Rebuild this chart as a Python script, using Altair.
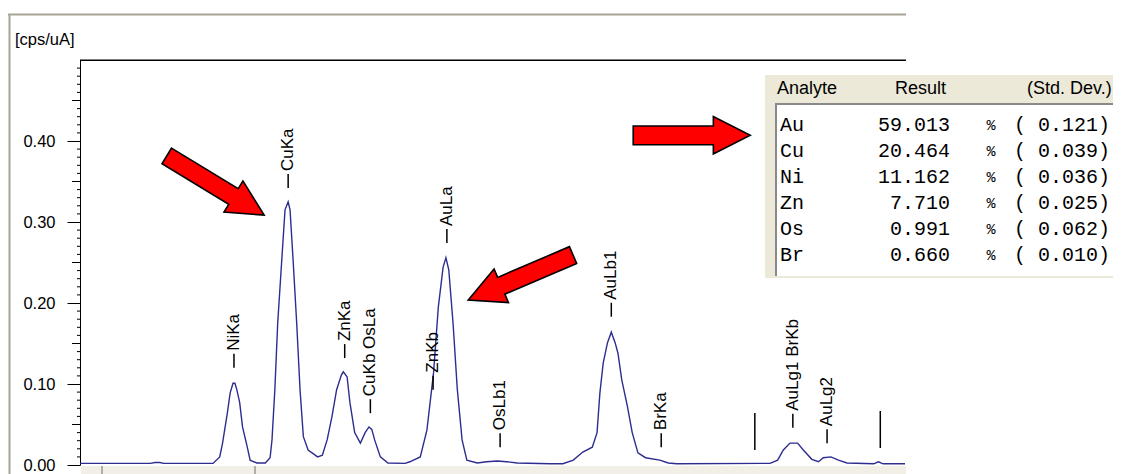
import altair as alt
import pandas as pd

# ---------------- data ----------------
energy = [5.85, 6.59, 6.64, 6.69, 6.73, 7.25, 7.32, 7.35, 7.40, 7.43, 7.46, 7.48, 7.50, 7.53,
          7.56, 7.61, 7.64, 7.71, 7.80, 7.85, 7.87, 7.90, 7.93, 7.975, 8.007, 8.04, 8.06, 8.09,
          8.13, 8.165, 8.20, 8.25, 8.35, 8.40, 8.45, 8.50, 8.55, 8.60, 8.62, 8.66, 8.69, 8.74,
          8.80, 8.85, 8.89, 8.92, 8.95, 9.01, 9.09, 9.27, 9.32, 9.43, 9.50, 9.57, 9.62, 9.67,
          9.70, 9.73, 9.775, 9.82, 9.87, 9.92, 10.03, 10.13, 10.24, 10.34, 10.45, 10.80, 10.93,
          11.04, 11.14, 11.24, 11.29, 11.32, 11.355, 11.40, 11.44, 11.48, 11.51, 11.55, 11.61,
          11.66, 11.72, 11.80, 11.95, 12.04, 12.13, 13.11, 13.19, 13.25, 13.32, 13.40, 13.46,
          13.55, 13.62, 13.67, 13.75, 13.83, 13.92, 14.20, 14.25, 14.30, 14.53]
intensity = [0.002, 0.002, 0.003, 0.003, 0.002, 0.002, 0.010, 0.027, 0.064, 0.089, 0.101, 0.101,
             0.093, 0.077, 0.047, 0.022, 0.006, 0.0025, 0.0025, 0.009, 0.031, 0.093, 0.175, 0.257,
             0.315, 0.325, 0.315, 0.257, 0.175, 0.093, 0.035, 0.0185, 0.010, 0.012, 0.031, 0.059,
             0.093, 0.111, 0.115, 0.109, 0.077, 0.040, 0.027, 0.040, 0.047, 0.044, 0.031, 0.010,
             0.0025, 0.002, 0.004, 0.010, 0.043, 0.114, 0.195, 0.244, 0.256, 0.241, 0.175, 0.093,
             0.031, 0.006, 0.0025, 0.004, 0.005, 0.004, 0.0025, 0.0015, 0.0015, 0.006, 0.016,
             0.022, 0.040, 0.089, 0.126, 0.151, 0.164, 0.151, 0.138, 0.105, 0.072, 0.040, 0.015,
             0.009, 0.006, 0.0025, 0.0015, 0.002, 0.006, 0.0185, 0.027, 0.027, 0.0185, 0.007,
             0.004, 0.009, 0.010, 0.006, 0.0025, 0.0015, 0.004, 0.0015, 0.0015]

peak_names = ["NiKa", "CuKa", "ZnKa", "CuKb OsLa", "ZnKb", "AuLa", "OsLb1", "AuLb1", "BrKa",
              "", "AuLg1 BrKb", "AuLg2", ""]
peak_energy = [7.47, 8.04, 8.635, 8.905, 9.565, 9.71, 10.27, 11.44, 11.965, 12.95, 13.35,
               13.71, 14.27]
peak_label_base = [0.120, 0.342, 0.132, 0.064, 0.093, 0.274, 0.022, 0.183, 0.022, 0.0185,
                   0.046, 0.027, 0.021]

analytes = ["Au", "Cu", "Ni", "Zn", "Os", "Br"]
results = ["59.013", "20.464", "11.162", "7.710", "0.991", "0.660"]
std_devs = ["0.121", "0.039", "0.036", "0.025", "0.062", "0.010"]
table_headers = ["Analyte", "Result", "(Std. Dev.)"]

y_tick_values = [0.0, 0.1, 0.2, 0.3, 0.4]
y_mid_ticks = [0.05, 0.15, 0.25, 0.35, 0.45]
y_minor_ticks = [round(i * 0.01, 2) for i in range(51) if i % 5 != 0]

# arrow annotations (centre in data units, direction in degrees clockwise, length in px)
arrow_x = [7.275, 10.486, 12.286]
arrow_y = [0.345, 0.2315, 0.407]
arrow_angle = [31.3, 156.8, 0.0]
arrow_len = [114, 114, 117]

# ---------------- layout ----------------
W, H = 825, 405
FONT = "Liberation Sans"
MONO = "Liberation Mono"
XD = [5.85, 14.53]
YD = [0.0, 0.5]

xs = alt.Scale(domain=XD, nice=False, zero=False)
ys = alt.Scale(domain=YD, nice=False, zero=False)
yaxis = alt.Axis(values=y_tick_values, format=".2f", tickSize=13, labelPadding=12,
                 labelFont=FONT, labelFontSize=16.5, labelColor="black",
                 domainColor="black", tickColor="black", grid=False, title=None,
                 labelFlush=False, labelOverlap=False)


def X(field):
    return alt.X(field, scale=xs, axis=None)


def Y(field):
    return alt.Y(field, scale=ys, axis=yaxis)


one = pd.DataFrame({"a": [0]})

spec = pd.DataFrame({"energy": energy, "intensity": intensity})
curve = alt.Chart(spec).mark_line(color="#2d2d8f", strokeWidth=1.4).encode(
    x=X("energy:Q"), y=Y("intensity:Q"))

mid = alt.Chart(pd.DataFrame({"intensity": y_mid_ticks})).mark_rule(color="black").encode(
    y=Y("intensity:Q"), x=alt.value(-8), x2=alt.value(0))
minor = alt.Chart(pd.DataFrame({"intensity": y_minor_ticks})).mark_rule(color="black").encode(
    y=Y("intensity:Q"), x=alt.value(-3), x2=alt.value(0))

labels_df = pd.DataFrame({"energy": peak_energy, "intensity": peak_label_base,
                          "txt": peak_names})
named = labels_df[labels_df["txt"] != ""]
unnamed = labels_df[labels_df["txt"] == ""]

peak_text = alt.Chart(named).mark_text(
    angle=270, align="left", baseline="middle", font=FONT, fontSize=17, color="black",
    yOffset=-17
).encode(x=X("energy:Q"), y=Y("intensity:Q"), text="txt:N")
peak_dash = alt.Chart(named).mark_tick(
    orient="vertical", size=14, thickness=1.5, color="black", yOffset=-7, opacity=1
).encode(x=X("energy:Q"), y=Y("intensity:Q"))
marker_dash = alt.Chart(unnamed).mark_tick(
    orient="vertical", size=37, thickness=1.5, color="black", yOffset=-18.5, opacity=1
).encode(x=X("energy:Q"), y=Y("intensity:Q"))

arrow_path = ("M -1 -0.16 L 0.37 -0.16 L 0.37 -0.32 L 1 0 L 0.37 0.32 L 0.37 0.16 "
              "L -1 0.16 Z")
arrows_df = pd.DataFrame({"energy": arrow_x, "intensity": arrow_y, "ang": arrow_angle,
                          "sz": [l * l for l in arrow_len]})
arrows = alt.Chart(arrows_df).mark_point(
    shape=arrow_path, filled=True, fill="#ff0000", stroke="black", strokeWidth=1.6, opacity=1
).encode(
    x=X("energy:Q"), y=Y("intensity:Q"),
    angle=alt.Angle("ang:Q", scale=None), size=alt.Size("sz:Q", scale=None))

# frame lines
top_border = alt.Chart(one).mark_rule(color="black", strokeWidth=1.5).encode(
    x=alt.value(0), x2=alt.value(826), y=alt.value(0.25))
frame_h = alt.Chart(one).mark_rule(color="#a8a494", strokeWidth=2).encode(
    x=alt.value(-72), x2=alt.value(826), y=alt.value(-45.5))
frame_v = alt.Chart(one).mark_rule(color="#a8a494", strokeWidth=2).encode(
    x=alt.value(-70.5), y=alt.value(-46), y2=alt.value(414))
unit_title = alt.Chart(one).mark_text(
    text="[cps/uA]", align="left", baseline="middle", font=FONT, fontSize=16.5, color="black"
).encode(x=alt.value(-65), y=alt.value(-20))

# scroll strip under the plot
scroll = alt.Chart(one).mark_rect(color="#f1efe6").encode(
    x=alt.value(1), x2=alt.value(826), y=alt.value(406), y2=alt.value(414))
scroll_btn1 = alt.Chart(one).mark_rule(color="#9a9a90", strokeWidth=1.5).encode(
    x=alt.value(22), y=alt.value(406), y2=alt.value(414))
scroll_btn2 = alt.Chart(one).mark_rule(color="#9a9a90", strokeWidth=1.5).encode(
    x=alt.value(175), y=alt.value(406), y2=alt.value(414))

# results panel
panel = alt.Chart(one).mark_rect(color="#ece9d8").encode(
    x=alt.value(685), x2=alt.value(1045), y=alt.value(15), y2=alt.value(218))
listbox = alt.Chart(one).mark_rect(color="white").encode(
    x=alt.value(696), x2=alt.value(1045), y=alt.value(44), y2=alt.value(216))
lb_left = alt.Chart(one).mark_rule(color="#8a8a8a", strokeWidth=2).encode(
    x=alt.value(696), y=alt.value(43), y2=alt.value(216))
lb_top = alt.Chart(one).mark_rule(color="#8a8a8a", strokeWidth=2).encode(
    x=alt.value(695), x2=alt.value(1045), y=alt.value(44))

hdr_df = pd.DataFrame({"h": table_headers, "px": [697, 815, 947]})
headers = alt.Chart(hdr_df).mark_text(
    align="left", baseline="middle", font=FONT, fontSize=18, color="black"
).encode(x=alt.X("px:Q", scale=None), y=alt.value(29), text="h:N")

rows_df = pd.DataFrame({
    "name": analytes, "res": results,
    "sd": ["( " + s + ")" for s in std_devs],
    "pct": ["%"] * len(analytes),
    "py": [65 + 26 * i for i in range(len(analytes))]})
row_y = alt.Y("py:Q", scale=None, axis=None)
col_name = alt.Chart(rows_df).mark_text(
    align="left", baseline="middle", font=MONO, fontSize=20, color="black"
).encode(x=alt.value(700), y=row_y, text="name:N")
col_res = alt.Chart(rows_df).mark_text(
    align="right", baseline="middle", font=MONO, fontSize=20, color="black"
).encode(x=alt.value(870), y=row_y, text="res:N")
col_pct = alt.Chart(rows_df).mark_text(
    align="center", baseline="middle", font=MONO, fontSize=15, color="black"
).encode(x=alt.value(911), y=row_y, text="pct:N")
col_sd = alt.Chart(rows_df).mark_text(
    align="right", baseline="middle", font=MONO, fontSize=20, color="black"
).encode(x=alt.value(1030), y=row_y, text="sd:N")

chart = alt.layer(
    frame_h, frame_v, unit_title, top_border, scroll, scroll_btn1, scroll_btn2,
    curve, mid, minor, peak_text, peak_dash, marker_dash,
    panel, listbox, lb_left, lb_top, headers, col_name, col_res, col_pct, col_sd, arrows
).properties(
    width=W, height=H,
    padding={"left": 72, "top": 52, "right": 208, "bottom": 9},
    autosize=alt.AutoSizeParams(type="none"),
    background="white",
).configure_view(stroke=None)

chart.save("out.html", embed_options={"renderer": "svg", "actions": False})
